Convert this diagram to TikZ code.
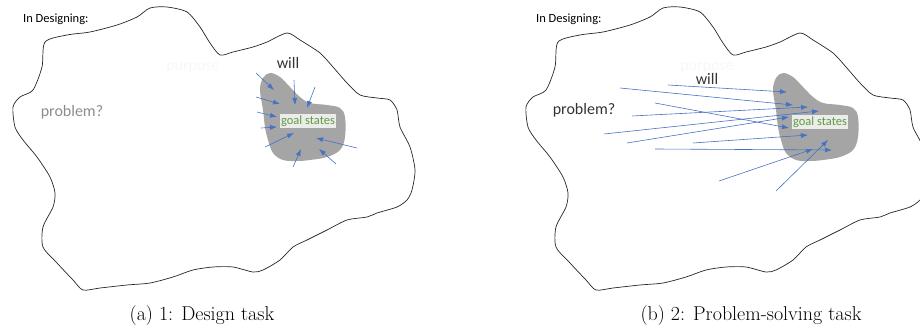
\documentclass[tikz,border=0pt]{standalone}
\usepackage{fontspec}
\newfontfamily\slidefont{Carlito}
\usetikzlibrary{arrows.meta}
\definecolor{accentblue}{HTML}{4472C4}
\definecolor{goalgreen}{HTML}{5E9C3F}
\definecolor{labelgrey}{HTML}{ECECEC}
\definecolor{blobgrey}{HTML}{A5A5A5}
\tikzset{outline/.style={draw=black!85, line width=0.7pt},
         goalblob/.style={fill=blobgrey},
         goalarrow/.style={draw=accentblue, line width=0.6pt,
           -{Latex[length=7pt,width=5pt]}},
         slidetext/.style={font=\slidefont\fontsize{#1}{#1}\selectfont, inner sep=0pt},
         slidetext/.default={16},
         goallabel/.style={slidetext=12.5, fill=labelgrey, text=goalgreen, inner sep=1.5pt},
         subcap/.style={font=\fontsize{20}{24}\selectfont, inner sep=0pt}}

\begin{document}
\begin{tikzpicture}[x=1pt,y=-1pt]
  \useasboundingbox (0,0) rectangle (920,334);
  % the two pasted slides: same outline and goal region
  \foreach \dx in {0,513} {
    \begin{scope}[xshift=\dx pt]
      \draw[outline] plot[smooth cycle, tension=0.45] coordinates {
        (45,42) (67,35) (90,32) (117,25) (137,17) (150,8) (167,7) (187,12)
        (200,27) (210,43) (220,55) (233,52) (253,47) (267,42) (287,33) (300,40)
        (320,53) (333,67) (347,83) (360,95) (377,98) (390,100) (397,110) (400,127)
        (410,147) (415,170) (412,190) (407,200) (397,207) (377,213) (367,217) (347,220)
        (327,230) (307,240) (293,247) (280,260) (263,270) (253,272) (233,267) (213,267)
        (193,270) (173,277) (150,283) (127,285) (100,288) (83,290) (73,280) (57,263)
        (43,247) (43,227) (53,207) (55,193) (50,177) (37,157) (23,140) (15,127)
        (13,107) (20,97) (33,90) (42,67)};
      \fill[goalblob] plot[smooth cycle, tension=0.6] coordinates {
        (270,73) (263,78) (260,90) (263,110) (265,127) (268,140) (273,153) (283,160)
        (297,161) (310,160) (327,157) (340,150) (345,137) (345,117) (340,108) (327,105)
        (310,103) (300,97) (290,87) (280,77)};
    \end{scope}
  }

  % (a) design task
  \node[slidetext=12.5, anchor=base west] (designA) at (23,23) {In Designing:};
  \node[slidetext, text=black!3] (purposeA) at (193,68) {purpose};
  \node[slidetext, text=black!45] (problemA) at (72,112) {problem?};
  \node[slidetext, text=black!80] (willA) at (288,63) {will};
  \foreach \xa/\ya/\xb/\yb in {256/73/274/90, 256/97/280/104, 257/112/277/117,
      261/128/277/127, 294/80/295/105, 315/87/307/108, 265/147/294/133,
      357/148/316/138, 293/167/301/149, 336/164/319/149}
    \draw[goalarrow] (\xa,\ya) -- (\xb,\yb);
  \node[goallabel] (goalA) at (308,121) {goal states};
  \node[subcap] (capA) at (202,316) {(a) 1: Design task};

  % (b) problem-solving task
  \node[slidetext=12.5, anchor=base west] (designB) at (536,23) {In Designing:};
  \node[slidetext, text=black!3] (purposeB) at (707,68) {purpose};
  \node[slidetext, text=black!80] (problemB) at (584,110) {problem?};
  \node[slidetext, text=black!80] (willB) at (707,79) {will};
  \foreach \xa/\ya/\xb/\yb in {668/85/787/92, 620/88/793/105, 632/116/808/107,
      604/134/819/111, 627/143/789/117, 655/103/789/128, 693/143/808/135,
      655/149/832/150, 719/181/813/149, 776/191/828/140}
    \draw[goalarrow] (\xa,\ya) -- (\xb,\yb);
  \node[goallabel] (goalB) at (820,122) {goal states};
  \node[subcap] (capB) at (751,316) {(b) 2: Problem-solving task};
\end{tikzpicture}
\end{document}
